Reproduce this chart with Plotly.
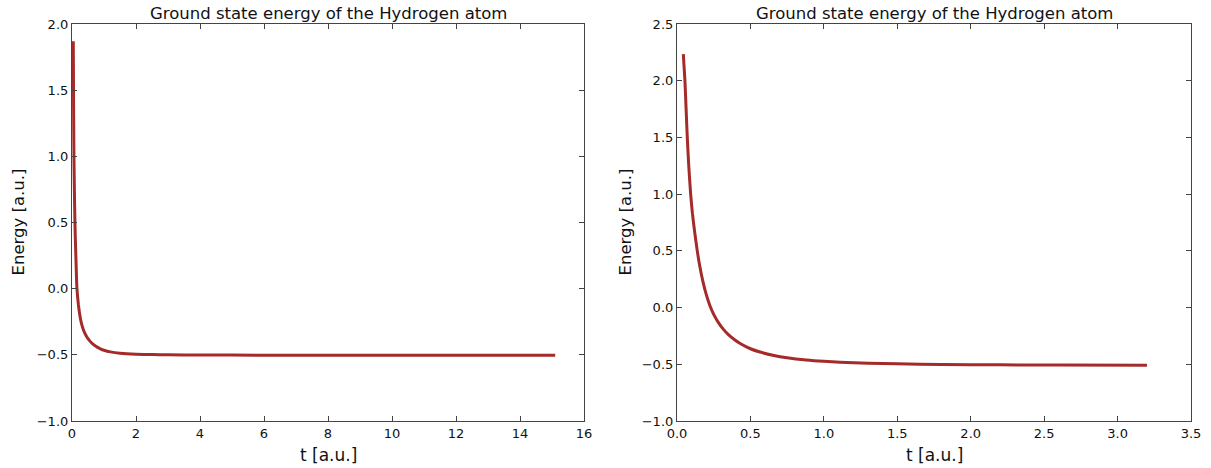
import plotly.graph_objects as go

# Left panel: long propagation
t_left = [0.04, 0.05, 0.06, 0.075, 0.09, 0.105, 0.12, 0.135, 0.15, 0.175, 0.20, 0.235, 0.27, 0.31, 0.35, 0.40, 0.46, 0.53, 0.60, 0.70, 0.80, 0.90, 1.0, 1.2, 1.5, 2.0, 2.5, 3.0, 4.0, 5.0, 8.0, 12.0, 15.1]
e_left = [1.87, 1.38, 1.02, 0.74, 0.52, 0.37, 0.25, 0.13, 0.02, -0.06, -0.121, -0.186, -0.235, -0.276, -0.307, -0.336, -0.363, -0.387, -0.407, -0.428, -0.444, -0.456, -0.465, -0.4775, -0.488, -0.4956, -0.4984, -0.500, -0.501, -0.502, -0.503, -0.504, -0.504]

# Right panel: short propagation
t_right = [0.043, 0.054, 0.062, 0.070, 0.080, 0.093, 0.105, 0.12, 0.138, 0.155, 0.175, 0.20, 0.225, 0.25, 0.28, 0.315, 0.35, 0.39, 0.43, 0.50, 0.565, 0.66, 0.75, 0.88, 1.0, 1.11, 1.3, 1.5, 1.8, 2.2, 2.6, 3.2]
e_right = [2.235, 2.0, 1.75, 1.5, 1.25, 1.0, 0.83, 0.67, 0.5, 0.366, 0.238, 0.112, 0.014, -0.06, -0.128, -0.19, -0.239, -0.282, -0.317, -0.363, -0.392, -0.422, -0.442, -0.462, -0.474, -0.482, -0.491, -0.496, -0.501, -0.505, -0.507, -0.508]

# Tick values / labels
xl_ticks = [0, 2, 4, 6, 8, 10, 12, 14, 16]
xl_text = ["0", "2", "4", "6", "8", "10", "12", "14", "16"]
yl_ticks = [-1.0, -0.5, 0.0, 0.5, 1.0, 1.5, 2.0]
yl_text = ["\u22121.0", "\u22120.5", "0.0", "0.5", "1.0", "1.5", "2.0"]
xr_ticks = [0.0, 0.5, 1.0, 1.5, 2.0, 2.5, 3.0, 3.5]
xr_text = ["0.0", "0.5", "1.0", "1.5", "2.0", "2.5", "3.0", "3.5"]
yr_ticks = [-1.0, -0.5, 0.0, 0.5, 1.0, 1.5, 2.0, 2.5]
yr_text = ["\u22121.0", "\u22120.5", "0.0", "0.5", "1.0", "1.5", "2.0", "2.5"]

title_text = "Ground state energy of the Hydrogen atom"
xlabel = "t [a.u.]"
ylabel = "Energy [a.u.]"

W, H = 1211, 468
LINE = "#a52a2a"
FONT = "DejaVu Sans"


def px_x(p):
    return p / W


def px_y(p):
    return 1 - p / H


fig = go.Figure()
fig.add_trace(go.Scatter(x=t_left, y=e_left, mode="lines",
                         line=dict(color=LINE, width=3, shape="spline", smoothing=0.5),
                         xaxis="x", yaxis="y", showlegend=False))
fig.add_trace(go.Scatter(x=t_right, y=e_right, mode="lines",
                         line=dict(color=LINE, width=3, shape="spline", smoothing=0.5),
                         xaxis="x2", yaxis="y2", showlegend=False))

ax_common = dict(showgrid=False, zeroline=False, showline=True, linecolor="#444444", linewidth=1.2,
                 mirror="ticks", ticks="inside", ticklen=5, tickcolor="#444444", tickwidth=1,
                 automargin=False, tickmode="array",
                 tickfont=dict(family=FONT, size=13, color="#111111"))

y0, y1 = px_y(421), px_y(24)
L = (px_x(72), px_x(584))
R = (px_x(677), px_x(1191))

fig.update_layout(
    width=W, height=H,
    margin=dict(l=0, r=0, t=0, b=0, pad=0),
    paper_bgcolor="white", plot_bgcolor="white",
    font=dict(family=FONT, color="#111111"),
    xaxis=dict(domain=list(L), range=[0, 16], tickvals=xl_ticks, ticktext=xl_text, anchor="y", **ax_common),
    yaxis=dict(domain=[y0, y1], range=[-1, 2], tickvals=yl_ticks, ticktext=yl_text, anchor="x", **ax_common),
    xaxis2=dict(domain=list(R), range=[0, 3.5], tickvals=xr_ticks, ticktext=xr_text, anchor="y2", **ax_common),
    yaxis2=dict(domain=[y0, y1], range=[-1, 2.5], tickvals=yr_ticks, ticktext=yr_text, anchor="x2", **ax_common),
)

anns = []
for (a, b), ylab_x in ((L, 18), (R, 625)):
    cx = (a + b) / 2
    anns.append(dict(text=title_text, x=cx, y=px_y(13), xref="paper", yref="paper",
                     showarrow=False, xanchor="center", yanchor="middle",
                     font=dict(family=FONT, size=16.5, color="#111111")))
    anns.append(dict(text=xlabel, x=cx, y=px_y(455), xref="paper", yref="paper",
                     showarrow=False, xanchor="center", yanchor="middle",
                     font=dict(family=FONT, size=17, color="#111111")))
    anns.append(dict(text=ylabel, x=px_x(ylab_x), y=(y0 + y1) / 2, xref="paper", yref="paper",
                     showarrow=False, xanchor="center", yanchor="middle", textangle=-90,
                     font=dict(family=FONT, size=16.5, color="#111111")))
fig.update_layout(annotations=anns)

fig.write_html("out.html")
